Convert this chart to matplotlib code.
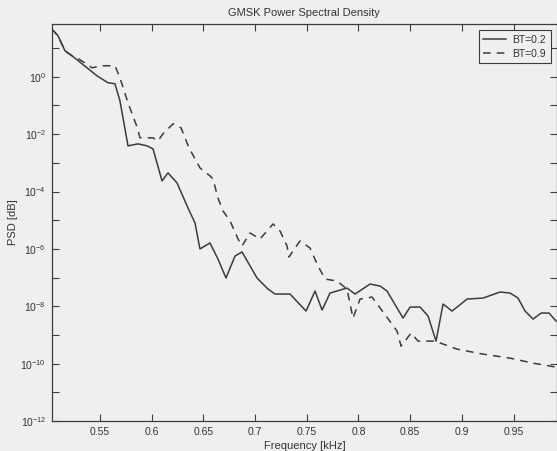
import numpy as np
import matplotlib
matplotlib.use("Agg")
import matplotlib.pyplot as plt
from matplotlib.ticker import FixedLocator, NullFormatter, LogFormatterMathtext

plt.rcParams['font.family'] = ['Liberation Sans', 'DejaVu Sans']
plt.rcParams['mathtext.fontset'] = 'custom'
plt.rcParams['mathtext.rm'] = 'Liberation Sans'
plt.rcParams['mathtext.it'] = 'Liberation Sans'

# Frequency [kHz] and log10(PSD)
freq_bt02 = [0.5033, 0.5094, 0.5161, 0.5229, 0.5326, 0.5471, 0.5577, 0.5645, 0.5693,
             0.5771, 0.5868, 0.5955, 0.6013, 0.6100, 0.6158, 0.6245, 0.6351, 0.6419,
             0.6467, 0.6564, 0.6641, 0.6719, 0.6806, 0.6874, 0.7019, 0.7125, 0.7193,
             0.7338, 0.7493, 0.7580, 0.7648, 0.7725, 0.7889, 0.7967, 0.8112, 0.8209,
             0.8276, 0.8431, 0.8499, 0.8596, 0.8673, 0.8750, 0.8818, 0.8905, 0.9050,
             0.9205, 0.9369, 0.9466, 0.9543, 0.9611, 0.9689, 0.9766, 0.9843, 0.9911]
logpsd_bt02 = [1.665, 1.431, 0.908, 0.733, 0.454, 0.035, -0.209, -0.244, -0.838,
               -2.408, -2.339, -2.408, -2.513, -3.630, -3.351, -3.700, -4.572, -5.096,
               -6.003, -5.794, -6.353, -7.016, -6.248, -6.108, -7.016, -7.400, -7.574,
               -7.574, -8.168, -7.469, -8.133, -7.539, -7.365, -7.574, -7.225, -7.295,
               -7.469, -8.412, -8.028, -8.028, -8.342, -9.215, -7.923, -8.168, -7.749,
               -7.714, -7.504, -7.539, -7.714, -8.168, -8.447, -8.237, -8.237, -8.517]

freq_bt09 = [0.5033, 0.5094, 0.5161, 0.5229, 0.5307, 0.5423, 0.5529, 0.5645, 0.5693,
             0.5771, 0.5858, 0.5887, 0.6013, 0.6061, 0.6109, 0.6206, 0.6284, 0.6361,
             0.6467, 0.6564, 0.6593, 0.6641, 0.6690, 0.6758, 0.6835, 0.6874, 0.6951,
             0.7048, 0.7174, 0.7241, 0.7309, 0.7328, 0.7386, 0.7435, 0.7531, 0.7609,
             0.7677, 0.7793, 0.7889, 0.7947, 0.8015, 0.8131, 0.8267, 0.8373, 0.8412,
             0.8509, 0.8576, 0.8741, 0.8953, 0.9205, 0.9466, 0.9689, 0.9911]
logpsd_bt09 = [1.665, 1.431, 0.908, 0.733, 0.593, 0.314, 0.384, 0.384, -0.035,
               -0.908, -1.745, -2.129, -2.129, -2.234, -1.990, -1.640, -1.780, -2.478,
               -3.176, -3.455, -3.560, -4.223, -4.677, -5.026, -5.654, -5.899, -5.445,
               -5.654, -5.131, -5.375, -5.899, -6.283, -5.969, -5.724, -5.969, -6.597,
               -7.051, -7.120, -7.400, -8.412, -7.749, -7.679, -8.342, -8.866, -9.389,
               -8.935, -9.215, -9.215, -9.494, -9.668, -9.808, -9.983, -10.122]

labels = ['BT=0.2', 'BT=0.9']
xticks = [0.55, 0.6, 0.65, 0.7, 0.75, 0.8, 0.85, 0.9, 0.95]
xticklabels = ['0.55', '0.6', '0.65', '0.7', '0.75', '0.8', '0.85', '0.9', '0.95']

bg = '#efefed'
ink = '#3c3c3c'

fig = plt.figure(figsize=(5.57, 4.51), dpi=100, facecolor=bg)
ax = fig.add_axes([0.0928, 0.0665, 0.9072, 0.8803], facecolor=bg)

psd02 = 10.0 ** np.array(logpsd_bt02)
psd09 = 10.0 ** np.array(logpsd_bt09)
ax.semilogy(freq_bt02, psd02, '-', color=ink, lw=1.1, label=labels[0])
ax.semilogy(freq_bt09, psd09, '--', color=ink, lw=1.1, dashes=(5, 4), label=labels[1])

ax.set_xlim(0.5033, 0.992)
ax.set_ylim(1e-12, 10 ** 1.84)

ax.xaxis.set_major_locator(FixedLocator(xticks))
ax.set_xticklabels(xticklabels)
ax.yaxis.set_major_locator(FixedLocator([10.0 ** k for k in range(-12, 1, 2)]))
ax.yaxis.set_minor_locator(FixedLocator([10.0 ** k for k in range(-11, 2, 2)]))
ax.yaxis.set_major_formatter(LogFormatterMathtext())
ax.yaxis.set_minor_formatter(NullFormatter())

ax.tick_params(which='both', direction='in', top=True, right=True,
               color=ink, labelcolor='#333333', labelsize=7.5, width=0.8)
ax.tick_params(which='major', length=5, pad=4)
ax.tick_params(which='minor', length=5)
for s in ax.spines.values():
    s.set_color(ink)
    s.set_linewidth(0.9)

ax.set_title('GMSK Power Spectral Density', fontsize=8, color='#333333', pad=6)
ax.set_xlabel('Frequency [kHz]', fontsize=8, color='#333333', labelpad=3)
ax.set_ylabel('PSD [dB]', fontsize=8, color='#333333', labelpad=2)

leg = ax.legend(loc='upper right', fontsize=7.5, frameon=True, fancybox=False,
                edgecolor=ink, facecolor=bg, framealpha=1, handlelength=2.2,
                borderaxespad=0.6, borderpad=0.45, labelspacing=0.35, handletextpad=0.6)
leg.get_frame().set_linewidth(0.8)
for t in leg.get_texts():
    t.set_color('#333333')

fig.savefig('out.png', dpi=100, facecolor=bg)
